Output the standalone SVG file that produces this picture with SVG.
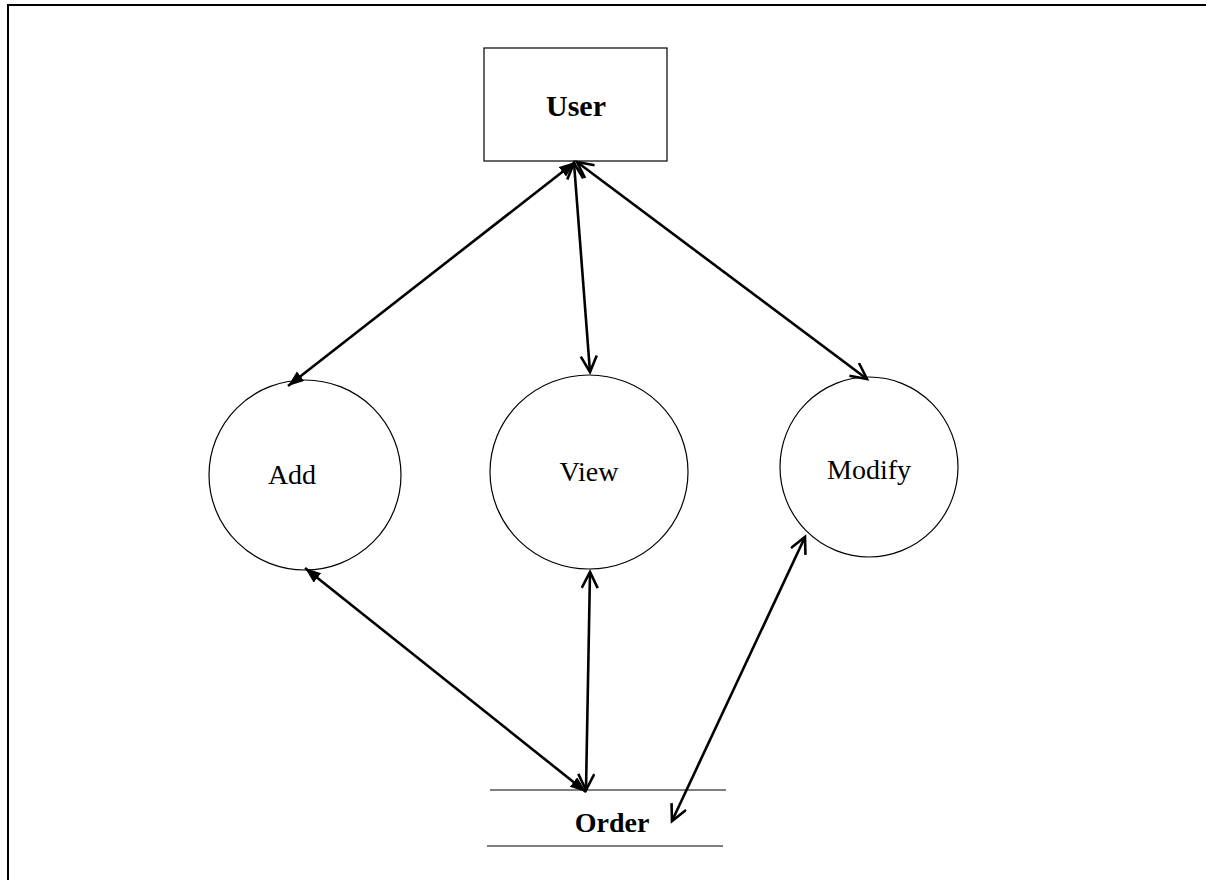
<svg xmlns="http://www.w3.org/2000/svg" width="1206" height="880" viewBox="0 0 1206 880">
<style>
.node{fill:#fff;stroke:#000;stroke-width:1.2}
.lbl{font-family:"Liberation Serif",serif;font-size:28px;text-anchor:middle;fill:#000}
.b{font-weight:bold}
.c{stroke:#000;stroke-width:2.6;fill:none}
.f{marker-start:url(#fh);marker-end:url(#fh)}
.o{marker-start:url(#oh);marker-end:url(#oh)}
</style>
<defs>
<marker id="fh" markerUnits="userSpaceOnUse" markerWidth="20" markerHeight="16" refX="16" refY="6" orient="auto-start-reverse">
<path d="M0,0 L16,6 L0,12 z" fill="#000"/>
</marker>
<marker id="oh" markerUnits="userSpaceOnUse" markerWidth="22" markerHeight="22" refX="17" refY="9" orient="auto-start-reverse">
<path d="M1,1 L17,9 L1,17" fill="none" stroke="#000" stroke-width="2.6"/>
</marker>
</defs>
<rect width="1206" height="880" fill="#fff"/>
<g id="frame"><path d="M8,880 L8,5 L1206,5" fill="none" stroke="#000" stroke-width="2"/></g>
<g id="user"><rect class="node" x="484" y="48" width="183" height="113"/><text class="lbl b" x="576" y="116" style="font-size:30px">User</text></g>
<g id="add"><ellipse class="node" cx="305" cy="475" rx="96" ry="95"/><text class="lbl" x="292" y="484">Add</text></g>
<g id="view"><ellipse class="node" cx="589" cy="472" rx="99" ry="97"/><text class="lbl" x="589" y="481">View</text></g>
<g id="modify"><ellipse class="node" cx="869" cy="467" rx="89" ry="90"/><text class="lbl" x="869" y="479">Modify</text></g>
<g id="order"><line x1="490" y1="790" x2="726" y2="790" stroke="#000" stroke-width="1.2"/><line x1="487" y1="846" x2="723" y2="846" stroke="#000" stroke-width="1.2"/><text class="lbl b" x="612" y="832">Order</text></g>
<g id="connectors">
<line class="c f" x1="575" y1="162" x2="288" y2="386"/>
<line class="c o" x1="574" y1="163" x2="590" y2="372"/>
<line class="c o" x1="577" y1="162" x2="867" y2="379"/>
<line class="c f" x1="305" y1="568" x2="586" y2="792"/>
<line class="c o" x1="590" y1="572" x2="586" y2="790"/>
<line class="c o" x1="805" y1="537" x2="672" y2="821"/>
</g>
</svg>
